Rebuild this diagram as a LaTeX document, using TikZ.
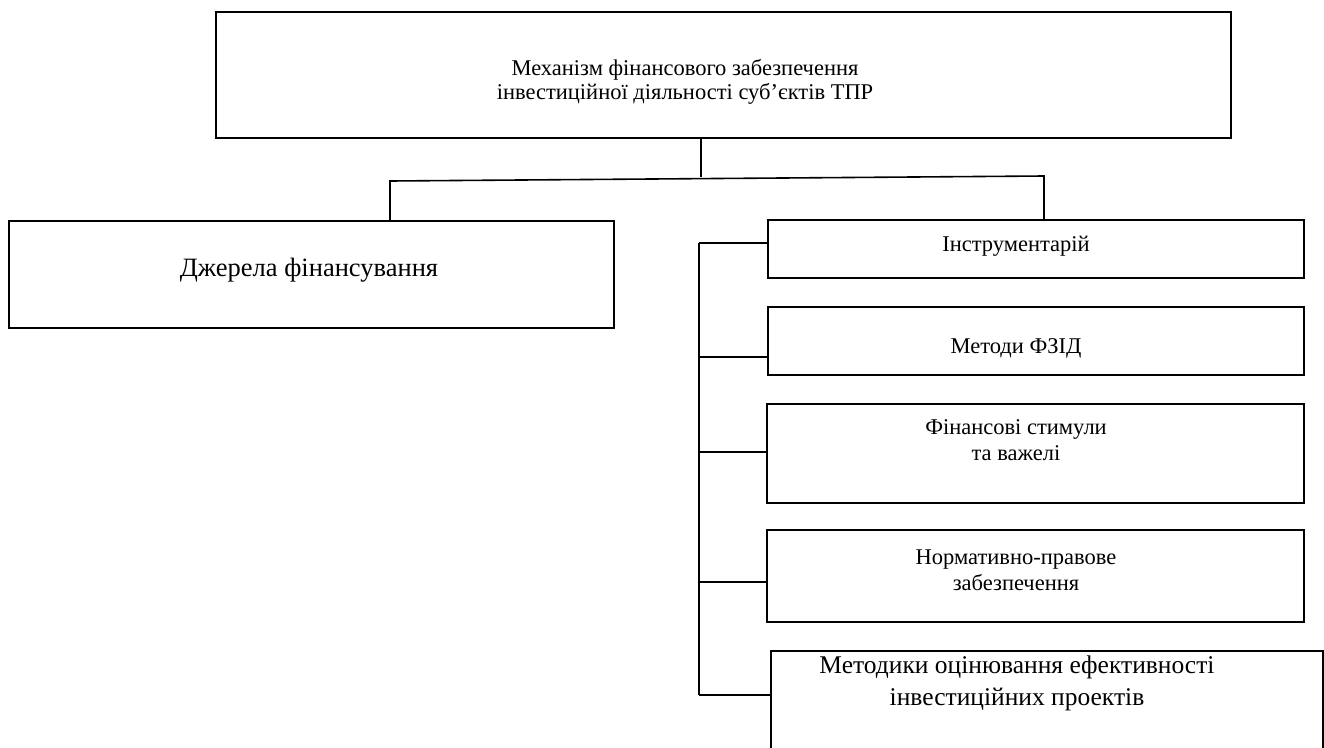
\documentclass[tikz,border=0pt]{standalone}
\usepackage{fontspec}
\setmainfont{Liberation Serif}
\usetikzlibrary{calc}

\begin{document}
\begin{tikzpicture} [x=1pt, y=-1pt, line width=1.6pt,
 box/.style={draw, inner sep=0, anchor=north west},
 txt/.style={align=center, inner sep=0, font=\fontsize{22.5}{25.5}\selectfont},
 bigtxt/.style={txt, font=\fontsize{25.5}{32}\selectfont}]
\clip (0,0) rectangle (1324,747);
% boxes
\node[box, minimum width=1015pt, minimum height=126pt] (mech)  at (215,11)  {};
\node[box, minimum width=605pt,  minimum height=107pt] (src)   at (8,220)   {};
\node[box, minimum width=536pt,  minimum height=58pt]  (instr) at (767,219) {};
\node[box, minimum width=536pt,  minimum height=68pt]  (meth)  at (767,306) {};
\node[box, minimum width=537pt,  minimum height=99pt]  (stim)  at (766,403) {};
\node[box, minimum width=537pt,  minimum height=92pt]  (norm)  at (766,529) {};
\node[box, minimum width=552pt,  minimum height=120pt] (eval)  at (770,650) {};
% texts
\node[txt, font=\fontsize{22.5}{24}\selectfont] (mechtxt) at (685,82) {Механізм фінансового забезпечення\\інвестиційної діяльності суб’єктів ТПР};
\node[bigtxt, font=\fontsize{26.5}{30}\selectfont] (srctxt) at (309,270) {Джерела фінансування};
\node[txt] (instrtxt)   at (1016,246) {Інструментарій};
\node[txt] (methtxt)    at (1016,348) {Методи ФЗІД};
\node[txt] (stimtxt)    at (1016,440) {Фінансові стимули\\та важелі};
\node[txt] (normtxt)    at (1016,570) {Нормативно-правове\\забезпечення};
\node[bigtxt] (evaltxt) at (1017,683) {Методики оцінювання ефективності\\інвестиційних проектів};
% connectors
\coordinate (split) at (701,177);
\coordinate (hubL) at (390,181);
\coordinate (hubR) at (1044,176);
\draw (mech.south -| split) -- (split);
\draw (src.north -| hubL) -- (hubL) -- (hubR) -- (instr.north -| hubR);
\coordinate (busTop) at (699,243);
\coordinate (busEnd) at (699,695);
\draw (busTop) -- (busEnd);
\foreach \n/\y in {instr/243, meth/357, stim/452, norm/582, eval/695}
 \draw (699,\y) -- (\n.west |- 0,\y);
\end{tikzpicture}
\end{document}
